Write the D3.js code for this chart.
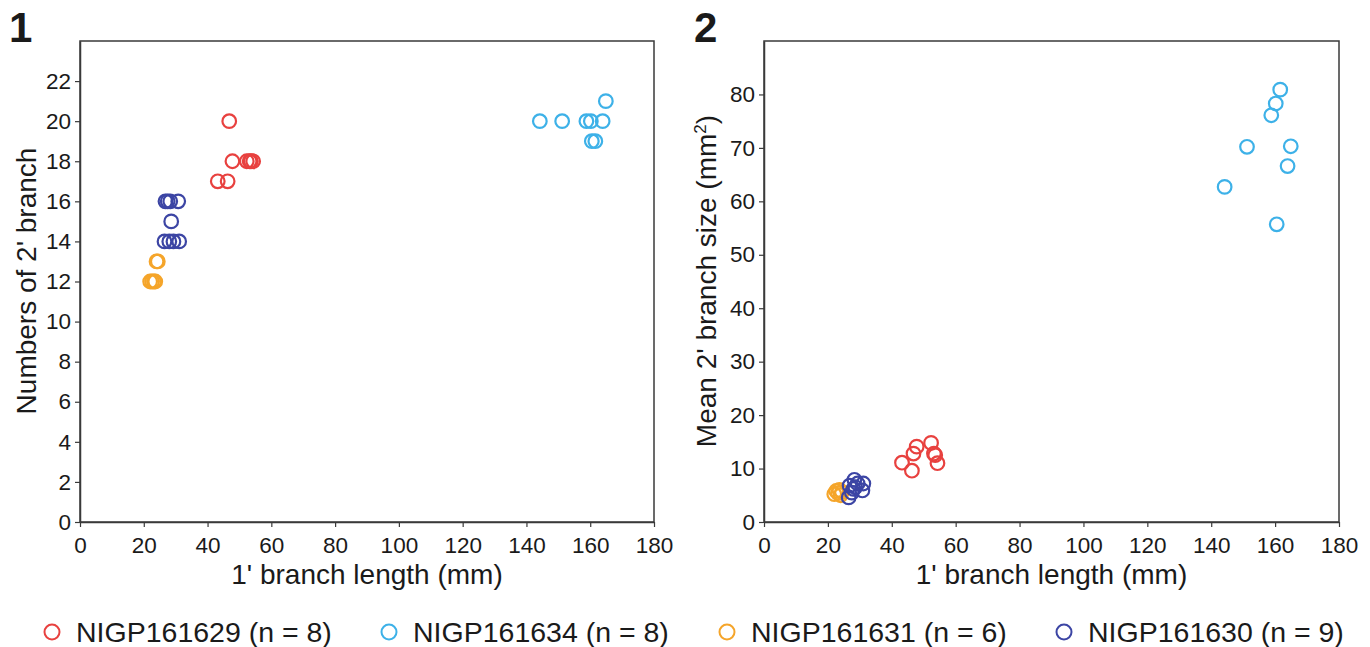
<!DOCTYPE html>
<html><head><meta charset="utf-8">
<script src="https://cdn.jsdelivr.net/npm/d3@7"></script>
<style>
body{margin:0;background:#fff;}
text{font-family:"Liberation Sans",Arial,sans-serif;fill:#1a1a1a;}
</style></head>
<body><svg id="c" width="1370" height="647"></svg>
<script>
// ---- data ----
const seriesNames = ["NIGP161629 (n = 8)","NIGP161634 (n = 8)","NIGP161631 (n = 6)","NIGP161630 (n = 9)"];
const seriesColors = ["#e8413f","#3db1e8","#f5a52a","#3c45a4"];
// 1' branch length (mm)
const lenRed    = [43.2,46.3,46.8,47.8,52.3,53.2,54.3,53.6];
const lenCyan   = [144.2,151.2,158.8,160.2,160.5,161.6,163.9,164.9];
const lenOrange = [22.0,22.6,23.2,23.6,24.0,24.4];
const lenBlue   = [26.5,26.8,28.0,28.3,28.6,29.3,30.8,31.1,27.5];
// numbers of 2' branch
const numRed    = [17,17,20,18,18,18,18,18];
const numCyan   = [20,20,20,20,19,19,20,21];
const numOrange = [12,12,12,12,13,13];
const numBlue   = [14,16,14,16,15,14,16,14,16];
// mean 2' branch size (mm2)
const sizeRed    = [11.1,9.6,12.8,14.1,14.8,12.8,11.0,12.5];
const sizeCyan   = [62.7,70.2,76.1,78.3,55.7,80.9,66.6,70.3];
const sizeOrange = [5.2,5.8,5.4,6.0,5.0,5.6];
const sizeBlue   = [4.6,6.8,6.2,7.9,6.5,7.2,5.9,7.2,5.5];
const xTicks = [0,20,40,60,80,100,120,140,160,180];
const yTicks1 = [0,2,4,6,8,10,12,14,16,18,20,22];
const yTicks2 = [0,10,20,30,40,50,60,70,80];

const lens = [lenRed,lenCyan,lenOrange,lenBlue];
const nums = [numRed,numCyan,numOrange,numBlue];
const sizes = [sizeRed,sizeCyan,sizeOrange,sizeBlue];

const svg = d3.select("#c");
const axisColor = "#3a3a3a";

function panel(opts){
  const g = svg.append("g");
  const x = d3.scaleLinear().domain([0,180]).range([opts.left, opts.right]);
  const y = d3.scaleLinear().domain([0,opts.ymax]).range([522, 41]);
  g.append("rect").attr("x",opts.left).attr("y",41).attr("width",opts.right-opts.left).attr("height",481)
    .attr("fill","none").attr("stroke",axisColor).attr("stroke-width",1.5);
  const xa = g.append("g").attr("transform","translate(0,522)")
    .call(d3.axisBottom(x).tickValues(xTicks).tickSize(5).tickSizeOuter(0).tickPadding(10));
  const ya = g.append("g").attr("transform",`translate(${opts.left},0)`)
    .call(d3.axisLeft(y).tickValues(opts.yTicks).tickSize(5).tickSizeOuter(0).tickPadding(4));
  [xa,ya].forEach(a=>{
    a.select(".domain").attr("stroke",axisColor).attr("stroke-width",1.5);
    a.selectAll(".tick line").attr("stroke",axisColor).attr("stroke-width",1.2);
    a.selectAll("text").style("font-size","22.5px").attr("fill","#1a1a1a");
  });
  for(let s=0;s<4;s++){
    const pts = lens[s].map((v,i)=>[v,opts.yData[s][i]]);
    g.append("g").selectAll("circle").data(pts).join("circle")
      .attr("cx",d=>x(d[0])).attr("cy",d=>y(d[1])).attr("r",6.8)
      .attr("fill","none").attr("stroke",seriesColors[s]).attr("stroke-width",2.2);
  }
  g.append("text").attr("x",(opts.left+opts.right)/2).attr("y",584).attr("text-anchor","middle")
    .style("font-size","28px").text("1' branch length (mm)");
  const yt = g.append("text").attr("transform",`translate(${opts.ytitleX},281) rotate(-90)`)
    .attr("text-anchor","middle").style("font-size","28px");
  opts.ytitle(yt);
  g.append("text").attr("x",opts.numX).attr("y",42).style("font-size","42px").style("font-weight","bold")
    .text(opts.num);
}

panel({left:80,right:654,ymax:24,yTicks:yTicks1,yData:nums,ytitleX:36,numX:9,num:"1",
  ytitle:t=>t.text("Numbers of 2' branch")});
panel({left:764,right:1339,ymax:90,yTicks:yTicks2,yData:sizes,ytitleX:716,numX:694,num:"2",
  ytitle:t=>{t.append("tspan").text("Mean 2' branch size (mm");
    t.append("tspan").attr("dy",-10).style("font-size","17px").text("2");
    t.append("tspan").attr("dy",10).text(")");}});

const legX = [52,389,727,1064];
const leg = svg.append("g").selectAll("g").data(seriesNames).join("g")
  .attr("transform",(d,i)=>`translate(${legX[i]},632)`);
leg.append("circle").attr("r",7.5).attr("fill","none").attr("stroke",(d,i)=>seriesColors[i]).attr("stroke-width",2);
leg.append("text").attr("x",24).attr("y",10).style("font-size","28.5px").text(d=>d);
</script></body></html>
